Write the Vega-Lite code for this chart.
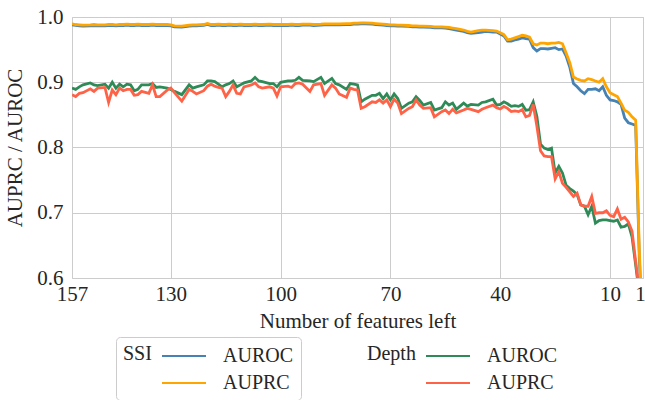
{
 "$schema": "https://vega.github.io/schema/vega-lite/v6.json",
 "width": 571,
 "height": 261,
 "autosize": "none",
 "padding": {"left": 72, "top": 17, "right": 2, "bottom": 122},
 "config": {
  "font": "Liberation Serif",
  "view": {"stroke": "#cccccc", "strokeWidth": 1},
  "axis": {"labelFont": "Liberation Serif", "titleFont": "Liberation Serif", "labelFontSize": 21, "titleFontSize": 21, "labelColor": "#262626", "titleColor": "#262626", "titleFontWeight": "normal", "gridColor": "#cccccc", "gridWidth": 1, "domain": false, "ticks": false, "labelFlush": false, "labelOverlap": false},
  "legend": {"labelFont": "Liberation Serif", "titleFont": "Liberation Serif", "labelFontSize": 20, "titleFontSize": 20, "titleFontWeight": "normal", "labelColor": "#262626", "titleColor": "#262626", "titleOrient": "left", "titleAnchor": "start", "titleBaseline": "top", "titlePadding": 20, "symbolType": "M-2,0H2", "symbolSize": 484, "symbolStrokeWidth": 2, "labelOffset": 27, "rowPadding": 5, "direction": "vertical"}
 },
 "data": {"values": [
  {"n":157,"SSI AUROC":0.988,"SSI AUPRC":0.9895,"Depth AUROC":0.891,"Depth AUPRC":0.881},
  {"n":156,"SSI AUROC":0.987,"SSI AUPRC":0.9885,"Depth AUROC":0.889,"Depth AUPRC":0.878},
  {"n":155,"SSI AUROC":0.9865,"SSI AUPRC":0.988,"Depth AUROC":0.893,"Depth AUPRC":0.883},
  {"n":154,"SSI AUROC":0.986,"SSI AUPRC":0.9875,"Depth AUROC":0.896,"Depth AUPRC":0.884},
  {"n":152,"SSI AUROC":0.9865,"SSI AUPRC":0.988,"Depth AUROC":0.899,"Depth AUPRC":0.890},
  {"n":151,"SSI AUROC":0.987,"SSI AUPRC":0.9885,"Depth AUROC":0.896,"Depth AUPRC":0.886},
  {"n":150,"SSI AUROC":0.9865,"SSI AUPRC":0.988,"Depth AUROC":0.895,"Depth AUPRC":0.891},
  {"n":148,"SSI AUROC":0.9865,"SSI AUPRC":0.988,"Depth AUROC":0.897,"Depth AUPRC":0.892},
  {"n":147,"SSI AUROC":0.987,"SSI AUPRC":0.9885,"Depth AUROC":0.891,"Depth AUPRC":0.869},
  {"n":146,"SSI AUROC":0.987,"SSI AUPRC":0.9885,"Depth AUROC":0.900,"Depth AUPRC":0.888},
  {"n":145,"SSI AUROC":0.9865,"SSI AUPRC":0.988,"Depth AUROC":0.891,"Depth AUPRC":0.881},
  {"n":144,"SSI AUROC":0.987,"SSI AUPRC":0.9885,"Depth AUROC":0.897,"Depth AUPRC":0.891},
  {"n":143,"SSI AUROC":0.987,"SSI AUPRC":0.9885,"Depth AUROC":0.893,"Depth AUPRC":0.887},
  {"n":142,"SSI AUROC":0.9875,"SSI AUPRC":0.989,"Depth AUROC":0.897,"Depth AUPRC":0.889},
  {"n":141,"SSI AUROC":0.987,"SSI AUPRC":0.9885,"Depth AUROC":0.896,"Depth AUPRC":0.889},
  {"n":140,"SSI AUROC":0.987,"SSI AUPRC":0.9885,"Depth AUROC":0.887,"Depth AUPRC":0.880},
  {"n":139,"SSI AUROC":0.9875,"SSI AUPRC":0.989,"Depth AUROC":0.889,"Depth AUPRC":0.881},
  {"n":138,"SSI AUROC":0.987,"SSI AUPRC":0.9885,"Depth AUROC":0.896,"Depth AUPRC":0.886},
  {"n":136,"SSI AUROC":0.987,"SSI AUPRC":0.9885,"Depth AUROC":0.896,"Depth AUPRC":0.883},
  {"n":135,"SSI AUROC":0.9875,"SSI AUPRC":0.989,"Depth AUROC":0.898,"Depth AUPRC":0.896},
  {"n":134,"SSI AUROC":0.987,"SSI AUPRC":0.9885,"Depth AUROC":0.892,"Depth AUPRC":0.878},
  {"n":133,"SSI AUROC":0.987,"SSI AUPRC":0.9885,"Depth AUROC":0.893,"Depth AUPRC":0.878},
  {"n":131,"SSI AUROC":0.987,"SSI AUPRC":0.9885,"Depth AUROC":0.891,"Depth AUPRC":0.888},
  {"n":130,"SSI AUROC":0.9865,"SSI AUPRC":0.988,"Depth AUROC":0.889,"Depth AUPRC":0.891},
  {"n":129,"SSI AUROC":0.985,"SSI AUPRC":0.9865,"Depth AUROC":0.886,"Depth AUPRC":0.884},
  {"n":127,"SSI AUROC":0.9845,"SSI AUPRC":0.986,"Depth AUROC":0.881,"Depth AUPRC":0.871},
  {"n":125,"SSI AUROC":0.986,"SSI AUPRC":0.9875,"Depth AUROC":0.896,"Depth AUPRC":0.889},
  {"n":124,"SSI AUROC":0.9865,"SSI AUPRC":0.988,"Depth AUROC":0.891,"Depth AUPRC":0.886},
  {"n":123,"SSI AUROC":0.9865,"SSI AUPRC":0.988,"Depth AUROC":0.893,"Depth AUPRC":0.882},
  {"n":121,"SSI AUROC":0.987,"SSI AUPRC":0.9885,"Depth AUROC":0.896,"Depth AUPRC":0.887},
  {"n":120,"SSI AUROC":0.9885,"SSI AUPRC":0.990,"Depth AUROC":0.902,"Depth AUPRC":0.894},
  {"n":119,"SSI AUROC":0.987,"SSI AUPRC":0.9885,"Depth AUROC":0.902,"Depth AUPRC":0.897},
  {"n":118,"SSI AUROC":0.987,"SSI AUPRC":0.9885,"Depth AUROC":0.901,"Depth AUPRC":0.894},
  {"n":117,"SSI AUROC":0.9875,"SSI AUPRC":0.989,"Depth AUROC":0.897,"Depth AUPRC":0.892},
  {"n":116,"SSI AUROC":0.987,"SSI AUPRC":0.9885,"Depth AUROC":0.893,"Depth AUPRC":0.891},
  {"n":115,"SSI AUROC":0.987,"SSI AUPRC":0.9885,"Depth AUROC":0.896,"Depth AUPRC":0.878},
  {"n":114,"SSI AUROC":0.9875,"SSI AUPRC":0.989,"Depth AUROC":0.898,"Depth AUPRC":0.886},
  {"n":113,"SSI AUROC":0.987,"SSI AUPRC":0.9885,"Depth AUROC":0.902,"Depth AUPRC":0.896},
  {"n":112,"SSI AUROC":0.987,"SSI AUPRC":0.9885,"Depth AUROC":0.893,"Depth AUPRC":0.883},
  {"n":111,"SSI AUROC":0.9875,"SSI AUPRC":0.989,"Depth AUROC":0.896,"Depth AUPRC":0.882},
  {"n":110,"SSI AUROC":0.987,"SSI AUPRC":0.9885,"Depth AUROC":0.899,"Depth AUPRC":0.893},
  {"n":108,"SSI AUROC":0.987,"SSI AUPRC":0.9885,"Depth AUROC":0.902,"Depth AUPRC":0.896},
  {"n":107,"SSI AUROC":0.9875,"SSI AUPRC":0.989,"Depth AUROC":0.9075,"Depth AUPRC":0.899},
  {"n":106,"SSI AUROC":0.987,"SSI AUPRC":0.9885,"Depth AUROC":0.902,"Depth AUPRC":0.893},
  {"n":105,"SSI AUROC":0.987,"SSI AUPRC":0.9885,"Depth AUROC":0.901,"Depth AUPRC":0.891},
  {"n":103,"SSI AUROC":0.9875,"SSI AUPRC":0.989,"Depth AUROC":0.898,"Depth AUPRC":0.893},
  {"n":102,"SSI AUROC":0.987,"SSI AUPRC":0.9885,"Depth AUROC":0.898,"Depth AUPRC":0.891},
  {"n":101,"SSI AUROC":0.987,"SSI AUPRC":0.9885,"Depth AUROC":0.893,"Depth AUPRC":0.879},
  {"n":100,"SSI AUROC":0.987,"SSI AUPRC":0.9885,"Depth AUROC":0.900,"Depth AUPRC":0.893},
  {"n":98,"SSI AUROC":0.987,"SSI AUPRC":0.9885,"Depth AUROC":0.902,"Depth AUPRC":0.894},
  {"n":97,"SSI AUROC":0.9875,"SSI AUPRC":0.989,"Depth AUROC":0.902,"Depth AUPRC":0.892},
  {"n":96,"SSI AUROC":0.987,"SSI AUPRC":0.9885,"Depth AUROC":0.903,"Depth AUPRC":0.898},
  {"n":95,"SSI AUROC":0.987,"SSI AUPRC":0.9885,"Depth AUROC":0.9075,"Depth AUPRC":0.899},
  {"n":94,"SSI AUROC":0.9875,"SSI AUPRC":0.989,"Depth AUROC":0.903,"Depth AUPRC":0.897},
  {"n":92,"SSI AUROC":0.9875,"SSI AUPRC":0.989,"Depth AUROC":0.902,"Depth AUPRC":0.886},
  {"n":91,"SSI AUROC":0.987,"SSI AUPRC":0.9885,"Depth AUROC":0.901,"Depth AUPRC":0.896},
  {"n":89,"SSI AUROC":0.9875,"SSI AUPRC":0.989,"Depth AUROC":0.9075,"Depth AUPRC":0.898},
  {"n":88,"SSI AUROC":0.988,"SSI AUPRC":0.9895,"Depth AUROC":0.898,"Depth AUPRC":0.880},
  {"n":86,"SSI AUROC":0.988,"SSI AUPRC":0.9895,"Depth AUROC":0.906,"Depth AUPRC":0.896},
  {"n":85,"SSI AUROC":0.988,"SSI AUPRC":0.9895,"Depth AUROC":0.898,"Depth AUPRC":0.891},
  {"n":84,"SSI AUROC":0.988,"SSI AUPRC":0.9895,"Depth AUROC":0.896,"Depth AUPRC":0.882},
  {"n":82,"SSI AUROC":0.9885,"SSI AUPRC":0.990,"Depth AUROC":0.889,"Depth AUPRC":0.877},
  {"n":81,"SSI AUROC":0.9885,"SSI AUPRC":0.990,"Depth AUROC":0.898,"Depth AUPRC":0.891},
  {"n":80,"SSI AUROC":0.989,"SSI AUPRC":0.9905,"Depth AUROC":0.897,"Depth AUPRC":0.889},
  {"n":79,"SSI AUROC":0.989,"SSI AUPRC":0.9905,"Depth AUROC":0.896,"Depth AUPRC":0.888},
  {"n":78,"SSI AUROC":0.9895,"SSI AUPRC":0.991,"Depth AUROC":0.870,"Depth AUPRC":0.860},
  {"n":77,"SSI AUROC":0.9895,"SSI AUPRC":0.991,"Depth AUROC":0.874,"Depth AUPRC":0.8625},
  {"n":75,"SSI AUROC":0.989,"SSI AUPRC":0.9905,"Depth AUROC":0.880,"Depth AUPRC":0.870},
  {"n":74,"SSI AUROC":0.9885,"SSI AUPRC":0.990,"Depth AUROC":0.880,"Depth AUPRC":0.869},
  {"n":73,"SSI AUROC":0.988,"SSI AUPRC":0.9895,"Depth AUROC":0.883,"Depth AUPRC":0.873},
  {"n":72,"SSI AUROC":0.9875,"SSI AUPRC":0.989,"Depth AUROC":0.875,"Depth AUPRC":0.868},
  {"n":71,"SSI AUROC":0.987,"SSI AUPRC":0.9885,"Depth AUROC":0.882,"Depth AUPRC":0.873},
  {"n":70,"SSI AUROC":0.9865,"SSI AUPRC":0.988,"Depth AUROC":0.873,"Depth AUPRC":0.8625},
  {"n":69,"SSI AUROC":0.9865,"SSI AUPRC":0.988,"Depth AUROC":0.882,"Depth AUPRC":0.874},
  {"n":68,"SSI AUROC":0.986,"SSI AUPRC":0.9875,"Depth AUROC":0.875,"Depth AUPRC":0.868},
  {"n":67,"SSI AUROC":0.986,"SSI AUPRC":0.9875,"Depth AUROC":0.860,"Depth AUPRC":0.852},
  {"n":65,"SSI AUROC":0.9855,"SSI AUPRC":0.987,"Depth AUROC":0.868,"Depth AUPRC":0.860},
  {"n":64,"SSI AUROC":0.985,"SSI AUPRC":0.9865,"Depth AUROC":0.870,"Depth AUPRC":0.8625},
  {"n":63,"SSI AUROC":0.985,"SSI AUPRC":0.9865,"Depth AUROC":0.878,"Depth AUPRC":0.873},
  {"n":62,"SSI AUROC":0.9845,"SSI AUPRC":0.986,"Depth AUROC":0.872,"Depth AUPRC":0.865},
  {"n":61,"SSI AUROC":0.9845,"SSI AUPRC":0.986,"Depth AUROC":0.865,"Depth AUPRC":0.860},
  {"n":59,"SSI AUROC":0.984,"SSI AUPRC":0.9855,"Depth AUROC":0.869,"Depth AUPRC":0.861},
  {"n":58,"SSI AUROC":0.9835,"SSI AUPRC":0.985,"Depth AUROC":0.8575,"Depth AUPRC":0.847},
  {"n":56,"SSI AUROC":0.9835,"SSI AUPRC":0.985,"Depth AUROC":0.861,"Depth AUPRC":0.855},
  {"n":55,"SSI AUROC":0.983,"SSI AUPRC":0.9845,"Depth AUROC":0.870,"Depth AUPRC":0.8575},
  {"n":54,"SSI AUROC":0.982,"SSI AUPRC":0.984,"Depth AUROC":0.865,"Depth AUPRC":0.852},
  {"n":53,"SSI AUROC":0.981,"SSI AUPRC":0.983,"Depth AUROC":0.868,"Depth AUPRC":0.8585},
  {"n":52,"SSI AUROC":0.980,"SSI AUPRC":0.982,"Depth AUROC":0.8585,"Depth AUPRC":0.853},
  {"n":50,"SSI AUROC":0.978,"SSI AUPRC":0.980,"Depth AUROC":0.868,"Depth AUPRC":0.8575},
  {"n":49,"SSI AUROC":0.976,"SSI AUPRC":0.978,"Depth AUROC":0.8635,"Depth AUPRC":0.860},
  {"n":48,"SSI AUROC":0.975,"SSI AUPRC":0.977,"Depth AUROC":0.866,"Depth AUPRC":0.8585},
  {"n":46,"SSI AUROC":0.976,"SSI AUPRC":0.979,"Depth AUROC":0.865,"Depth AUPRC":0.855},
  {"n":45,"SSI AUROC":0.977,"SSI AUPRC":0.980,"Depth AUROC":0.869,"Depth AUPRC":0.8585},
  {"n":44,"SSI AUROC":0.978,"SSI AUPRC":0.980,"Depth AUROC":0.870,"Depth AUPRC":0.861},
  {"n":42,"SSI AUROC":0.977,"SSI AUPRC":0.979,"Depth AUROC":0.874,"Depth AUPRC":0.865},
  {"n":41,"SSI AUROC":0.977,"SSI AUPRC":0.9785,"Depth AUROC":0.865,"Depth AUPRC":0.861},
  {"n":40,"SSI AUROC":0.974,"SSI AUPRC":0.976,"Depth AUROC":0.866,"Depth AUPRC":0.859},
  {"n":39,"SSI AUROC":0.971,"SSI AUPRC":0.973,"Depth AUROC":0.870,"Depth AUPRC":0.863},
  {"n":38,"SSI AUROC":0.963,"SSI AUPRC":0.965,"Depth AUROC":0.867,"Depth AUPRC":0.860},
  {"n":37,"SSI AUROC":0.963,"SSI AUPRC":0.966,"Depth AUROC":0.863,"Depth AUPRC":0.855},
  {"n":36,"SSI AUROC":0.965,"SSI AUPRC":0.968,"Depth AUROC":0.864,"Depth AUPRC":0.856},
  {"n":35,"SSI AUROC":0.966,"SSI AUPRC":0.970,"Depth AUROC":0.863,"Depth AUPRC":0.855},
  {"n":34,"SSI AUROC":0.968,"SSI AUPRC":0.972,"Depth AUROC":0.866,"Depth AUPRC":0.858},
  {"n":33,"SSI AUROC":0.967,"SSI AUPRC":0.971,"Depth AUROC":0.857,"Depth AUPRC":0.847},
  {"n":32,"SSI AUROC":0.966,"SSI AUPRC":0.969,"Depth AUROC":0.858,"Depth AUPRC":0.849},
  {"n":31,"SSI AUROC":0.953,"SSI AUPRC":0.959,"Depth AUROC":0.870,"Depth AUPRC":0.866},
  {"n":30,"SSI AUROC":0.948,"SSI AUPRC":0.957,"Depth AUROC":0.848,"Depth AUPRC":0.833},
  {"n":29,"SSI AUROC":0.9515,"SSI AUPRC":0.960,"Depth AUROC":0.805,"Depth AUPRC":0.795},
  {"n":28,"SSI AUROC":0.9515,"SSI AUPRC":0.960,"Depth AUROC":0.799,"Depth AUPRC":0.787},
  {"n":27,"SSI AUROC":0.951,"SSI AUPRC":0.959,"Depth AUROC":0.797,"Depth AUPRC":0.786},
  {"n":26,"SSI AUROC":0.952,"SSI AUPRC":0.960,"Depth AUROC":0.799,"Depth AUPRC":0.786},
  {"n":25,"SSI AUROC":0.953,"SSI AUPRC":0.960,"Depth AUROC":0.761,"Depth AUPRC":0.752},
  {"n":24,"SSI AUROC":0.950,"SSI AUPRC":0.961,"Depth AUROC":0.771,"Depth AUPRC":0.763},
  {"n":23,"SSI AUROC":0.951,"SSI AUPRC":0.959,"Depth AUROC":0.761,"Depth AUPRC":0.745},
  {"n":22,"SSI AUROC":0.940,"SSI AUPRC":0.945,"Depth AUROC":0.742,"Depth AUPRC":0.739},
  {"n":21,"SSI AUROC":0.923,"SSI AUPRC":0.930,"Depth AUROC":0.737,"Depth AUPRC":0.732},
  {"n":20,"SSI AUROC":0.898,"SSI AUPRC":0.908,"Depth AUROC":0.733,"Depth AUPRC":0.725},
  {"n":19,"SSI AUROC":0.893,"SSI AUPRC":0.905,"Depth AUROC":0.728,"Depth AUPRC":0.730},
  {"n":18,"SSI AUROC":0.887,"SSI AUPRC":0.903,"Depth AUROC":0.712,"Depth AUPRC":0.712},
  {"n":17,"SSI AUROC":0.8825,"SSI AUPRC":0.902,"Depth AUROC":0.710,"Depth AUPRC":0.710},
  {"n":16,"SSI AUROC":0.889,"SSI AUPRC":0.9055,"Depth AUROC":0.697,"Depth AUPRC":0.710},
  {"n":15,"SSI AUROC":0.889,"SSI AUPRC":0.904,"Depth AUROC":0.710,"Depth AUPRC":0.725},
  {"n":14,"SSI AUROC":0.890,"SSI AUPRC":0.902,"Depth AUROC":0.684,"Depth AUPRC":0.699},
  {"n":13,"SSI AUROC":0.887,"SSI AUPRC":0.900,"Depth AUROC":0.688,"Depth AUPRC":0.700},
  {"n":12,"SSI AUROC":0.893,"SSI AUPRC":0.9055,"Depth AUROC":0.689,"Depth AUPRC":0.700},
  {"n":11,"SSI AUROC":0.880,"SSI AUPRC":0.893,"Depth AUROC":0.689,"Depth AUPRC":0.703},
  {"n":10,"SSI AUROC":0.873,"SSI AUPRC":0.884,"Depth AUROC":0.688,"Depth AUPRC":0.696},
  {"n":9,"SSI AUROC":0.872,"SSI AUPRC":0.881,"Depth AUROC":0.687,"Depth AUPRC":0.694},
  {"n":8,"SSI AUROC":0.870,"SSI AUPRC":0.878,"Depth AUROC":0.689,"Depth AUPRC":0.706},
  {"n":7,"SSI AUROC":0.866,"SSI AUPRC":0.868,"Depth AUROC":0.678,"Depth AUPRC":0.690},
  {"n":6,"SSI AUROC":0.845,"SSI AUPRC":0.857,"Depth AUROC":0.679,"Depth AUPRC":0.693},
  {"n":5,"SSI AUROC":0.838,"SSI AUPRC":0.854,"Depth AUROC":0.683,"Depth AUPRC":0.686},
  {"n":4,"SSI AUROC":0.836,"SSI AUPRC":0.847,"Depth AUROC":0.663,"Depth AUPRC":0.672},
  {"n":3,"SSI AUROC":0.834,"SSI AUPRC":0.842,"Depth AUROC":0.620,"Depth AUPRC":0.625},
  {"n":2,"SSI AUROC":0.63,"SSI AUPRC":0.64,"Depth AUROC":0.575,"Depth AUPRC":0.58},
  {"n":1,"SSI AUROC":0.50,"SSI AUPRC":0.51,"Depth AUROC":0.53,"Depth AUPRC":0.54}
 ]},
 "encoding": {
  "x": {"field": "n", "type": "quantitative", "scale": {"domain": [1, 157], "reverse": true, "nice": false, "zero": false},
   "axis": {"values": [157, 130, 100, 70, 40, 10, 1], "title": "Number of features left", "titlePadding": 6, "labelPadding": 5,
    "labelOffset": {"condition": {"test": "datum.value == 1", "value": -3}, "value": 0}}},
  "y": {"field": "value", "type": "quantitative", "scale": {"domain": [0.6, 1.0], "nice": false, "zero": false},
   "axis": {"values": [0.6, 0.7, 0.8, 0.9, 1.0], "format": ".1f", "title": "AUPRC / AUROC", "titlePadding": 11, "labelPadding": 9}}
 },
 "layer": [
  {
   "transform": [{"fold": ["SSI AUROC", "SSI AUPRC"], "as": ["ssi", "value"]}],
   "mark": {"type": "line", "strokeWidth": 2.8, "clip": true},
   "encoding": {
    "color": {"field": "ssi", "type": "nominal", "scale": {"domain": ["SSI AUROC", "SSI AUPRC"], "range": ["#4682b4", "#ffa500"]},
     "legend": {"title": "SSI", "labelExpr": "replace(datum.label, 'SSI ', '') + '\u00a0\u00a0\u00a0\u00a0\u00a0\u00a0\u00a0\u00a0\u00a0\u00a0\u00a0\u00a0\u00a0\u00a0\u00a0\u00a0\u00a0\u00a0\u00a0\u00a0\u00a0\u00a0\u00a0\u00a0\u00a0\u00a0\u00a0\u00a0\u00a0\u00a0\u00a0\u00a0\u00a0\u00a0\u00a0\u00a0\u00a0\u00a0\u00a0\u00a0\u00a0\u00a0\u00a0\u00a0\u00a0\u00a0\u00a0\u00a0\u00a0\u00a0'",
      "labelLimit": 0, "orient": "none", "legendX": 44, "legendY": 320, "padding": 7,
      "strokeColor": "#cccccc", "fillColor": "#ffffff", "cornerRadius": 4}}
   }
  },
  {
   "transform": [{"fold": ["Depth AUROC", "Depth AUPRC"], "as": ["depth", "value"]}],
   "mark": {"type": "line", "strokeWidth": 2.8, "clip": true},
   "encoding": {
    "stroke": {"field": "depth", "type": "nominal", "scale": {"domain": ["Depth AUROC", "Depth AUPRC"], "range": ["#2e8b57", "#ff6347"]},
     "legend": {"title": "Depth", "labelExpr": "replace(datum.label, 'Depth ', '')", "orient": "none", "legendX": 295, "legendY": 327, "padding": 0}}
   }
  }
 ]
}
